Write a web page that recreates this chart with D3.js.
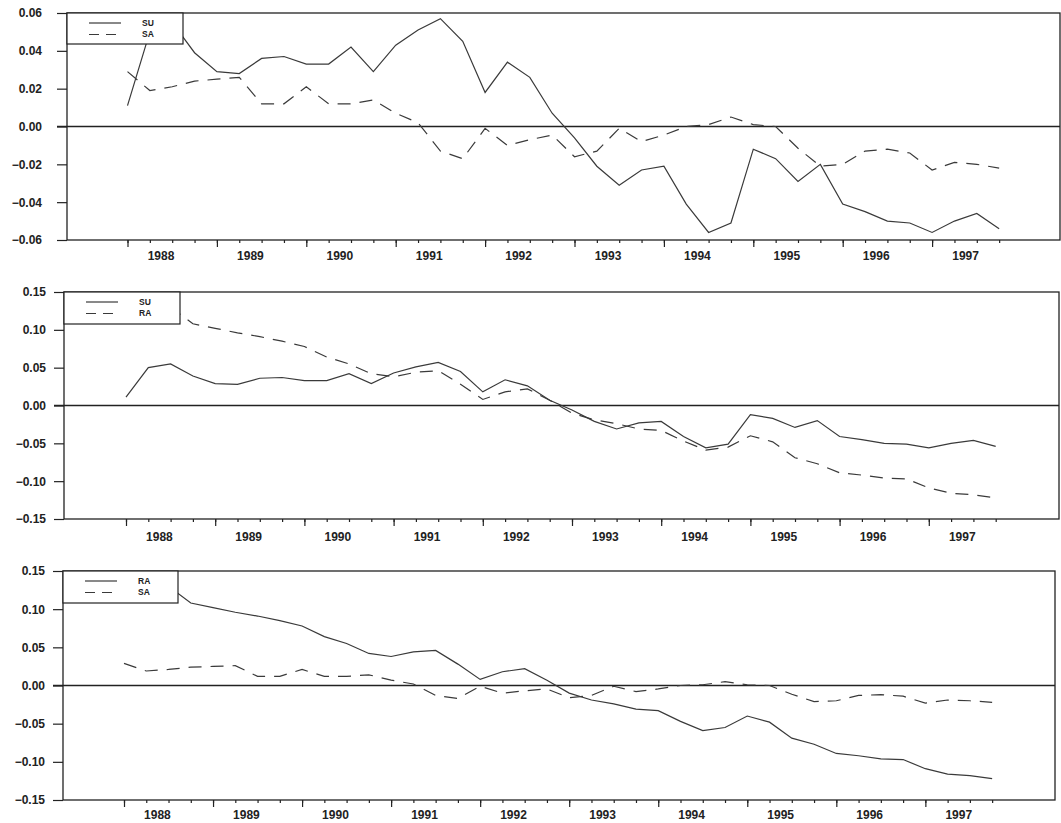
<!DOCTYPE html>
<html>
<head>
<meta charset="utf-8">
<script src="https://cdn.jsdelivr.net/npm/d3@7"></script>
<style>
  body { margin: 0; background: #fff; }
  text { font-family: "Liberation Sans", Arial, sans-serif; }
</style>
</head>
<body>
<svg id="chart" width="1061" height="823"></svg>
<script>
// quarterly series, 1988Q1 .. 1997Q4
var years = [1988, 1989, 1990, 1991, 1992, 1993, 1994, 1995, 1996, 1997];
var quarters = [];
years.forEach(function (y) { [1, 2, 3, 4].forEach(function (q) { quarters.push(y + 'Q' + q); }); });

var su = [0.011, 0.050, 0.055, 0.039, 0.029, 0.028, 0.036, 0.037, 0.033, 0.033,
          0.042, 0.029, 0.043, 0.051, 0.057, 0.045, 0.018, 0.034, 0.026, 0.007,
          -0.006, -0.021, -0.031, -0.023, -0.021, -0.041, -0.056, -0.051, -0.012, -0.017,
          -0.029, -0.020, -0.041, -0.045, -0.050, -0.051, -0.056, -0.050, -0.046, -0.054];

var sa = [0.029, 0.019, 0.021, 0.024, 0.025, 0.026, 0.012, 0.012, 0.021, 0.012,
          0.012, 0.014, 0.007, 0.002, -0.013, -0.017, -0.001, -0.010, -0.007, -0.0045,
          -0.016, -0.013, -0.001, -0.008, -0.0045, 0.000, 0.001, 0.005, 0.001, 0.000,
          -0.0115, -0.021, -0.020, -0.013, -0.012, -0.014, -0.023, -0.019, -0.020, -0.022];

var ra = [0.135, 0.133, 0.130, 0.108, 0.102, 0.096, 0.091, 0.085, 0.078, 0.064,
          0.055, 0.042, 0.038, 0.044, 0.046, 0.028, 0.008, 0.018, 0.022, 0.007,
          -0.010, -0.019, -0.024, -0.031, -0.033, -0.047, -0.059, -0.055, -0.040, -0.048,
          -0.069, -0.077, -0.089, -0.092, -0.096, -0.097, -0.109, -0.116, -0.118, -0.122];

var ticksSmall = [-0.06, -0.04, -0.02, 0.00, 0.02, 0.04, 0.06];
var ticksLarge = [-0.15, -0.10, -0.05, 0.00, 0.05, 0.10, 0.15];

// one entry per panel: which series, and where it sits on the page
var panels = [
  { solid: su, dashed: sa, names: ['SU', 'SA'], ticks: ticksSmall,
    left: 67, right: 1060, top: 13, bottom: 240, x0: 127.5, step: 22.35,
    labelPad: 15, yearDy: 16, legW: 116, legH: 31 },
  { solid: su, dashed: ra, names: ['SU', 'RA'], ticks: ticksLarge,
    left: 64, right: 1059, top: 292, bottom: 519, x0: 126, step: 22.3,
    labelPad: 8, yearDy: 18, legW: 116, legH: 32 },
  { solid: ra, dashed: sa, names: ['RA', 'SA'], ticks: ticksLarge,
    left: 63, right: 1055, top: 571, bottom: 800, x0: 124, step: 22.26,
    labelPad: 8, yearDy: 15, legW: 115, legH: 32 }
];

var svg = d3.select('#chart');
var ink = '#222';
var lineInk = '#3a3a3a';

panels.forEach(function (p) {

  var g = svg.append('g');

  // x runs over the quarter index, y over the values
  var x = d3.scaleLinear()
    .domain([(p.left - p.x0) / p.step, (p.right - p.x0) / p.step])
    .range([p.left, p.right]);
  var y = d3.scaleLinear()
    .domain([p.ticks[0], p.ticks[p.ticks.length - 1]])
    .range([p.bottom, p.top]);

  // y axis with tick labels
  var yAxis = g.append('g')
    .attr('transform', 'translate(' + p.left + ',0)')
    .call(d3.axisLeft(y).tickValues(p.ticks).tickSize(10)
      .tickPadding(p.labelPad).tickFormat(d3.format('.2f')));
  yAxis.select('.domain').remove();
  yAxis.selectAll('line').attr('stroke', ink).attr('stroke-width', 1.3);
  yAxis.selectAll('text')
    .attr('fill', ink)
    .style('font-size', '12px')
    .style('font-weight', 'bold');

  // minor (every quarter) and major (each Q1) ticks below the frame
  var minor = g.append('g')
    .attr('transform', 'translate(0,' + p.bottom + ')')
    .call(d3.axisBottom(x).tickValues(d3.range(quarters.length)).tickSize(3).tickFormat(''));
  var major = g.append('g')
    .attr('transform', 'translate(0,' + p.bottom + ')')
    .call(d3.axisBottom(x).tickValues(d3.range(0, quarters.length, 4)).tickSize(7).tickFormat(''));
  minor.select('.domain').remove();
  major.select('.domain').remove();
  g.selectAll('.tick line').attr('stroke', ink).attr('stroke-width', 1.2);

  // year labels, centred over their four quarters
  g.selectAll('text.year')
    .data(years)
    .enter()
    .append('text')
    .attr('class', 'year')
    .attr('x', function (d, i) { return x(i * 4 + 1.5); })
    .attr('y', p.bottom + p.yearDy)
    .attr('dy', '0.35em')
    .attr('text-anchor', 'middle')
    .attr('fill', ink)
    .style('font-size', '12px')
    .style('font-weight', 'bold')
    .text(function (d) { return d; });

  // frame and zero line
  g.append('rect')
    .attr('x', p.left).attr('y', p.top)
    .attr('width', p.right - p.left).attr('height', p.bottom - p.top)
    .attr('fill', 'none').attr('stroke', ink).attr('stroke-width', 1.3);
  g.append('line')
    .attr('x1', p.left - 10).attr('x2', p.right)
    .attr('y1', y(0)).attr('y2', y(0))
    .attr('stroke', ink).attr('stroke-width', 1.3);

  // the two series
  var line = d3.line()
    .x(function (d, i) { return x(i); })
    .y(function (d) { return y(d); });

  g.append('path')
    .datum(p.dashed)
    .attr('d', line)
    .attr('fill', 'none')
    .attr('stroke', lineInk)
    .attr('stroke-width', 1.2)
    .attr('stroke-dasharray', '13,9');

  g.append('path')
    .datum(p.solid)
    .attr('d', line)
    .attr('fill', 'none')
    .attr('stroke', lineInk)
    .attr('stroke-width', 1.2);

  // legend box, opaque, sits over the lines
  var leg = g.append('g')
    .attr('transform', 'translate(' + p.left + ',' + p.top + ')');
  leg.append('rect')
    .attr('width', p.legW).attr('height', p.legH)
    .attr('fill', '#fff').attr('stroke', ink).attr('stroke-width', 1.2);

  [0, 1].forEach(function (k) {
    var ry = 10 + k * 11.5;
    leg.append('line')
      .attr('x1', 22).attr('x2', 54)
      .attr('y1', ry).attr('y2', ry)
      .attr('stroke', lineInk)
      .attr('stroke-width', 1.2)
      .attr('stroke-dasharray', k === 1 ? '10,7' : null);
    leg.append('text')
      .attr('x', 75).attr('y', ry)
      .attr('dy', '0.35em')
      .attr('fill', ink)
      .style('font-size', '8.5px')
      .style('font-weight', 'bold')
      .text(p.names[k]);
  });
});
</script>
</body>
</html>
